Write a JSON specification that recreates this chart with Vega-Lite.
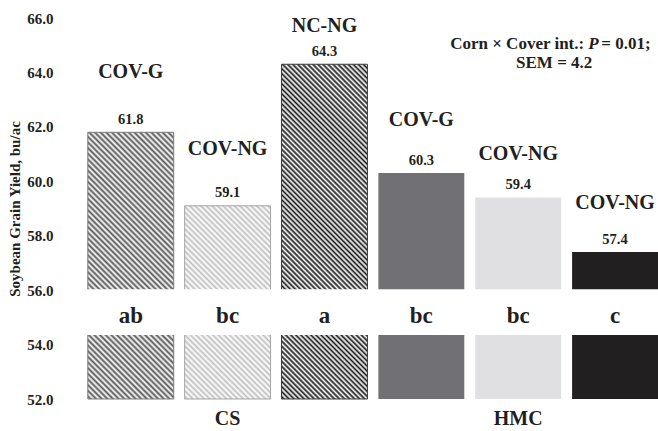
{
  "$schema": "https://vega.github.io/schema/vega-lite/v6.json",
  "width": 576,
  "height": 381,
  "autosize": {"type": "none"},
  "padding": {"left": 82, "top": 18, "right": 0, "bottom": 32},
  "background": "white",
  "config": {
    "view": {"stroke": null},
    "font": "Liberation Serif",
    "text": {"font": "Liberation Serif", "fontWeight": "bold", "color": "#231f20"},
    "axis": {"labelFont": "Liberation Serif", "labelFontWeight": "bold", "labelColor": "#231f20", "titleFont": "Liberation Serif", "titleFontWeight": "bold", "titleColor": "#231f20", "domain": false, "ticks": false, "tickSize": 0, "grid": false}
  },
  "data": {
    "values": [
      {"id": "CS-1", "system": "CS", "cover": "COV-G", "yield": 61.8, "sig": "ab", "labelAt": 64.0},
      {"id": "CS-2", "system": "CS", "cover": "COV-NG", "yield": 59.1, "sig": "bc", "labelAt": 61.2},
      {"id": "CS-3", "system": "CS", "cover": "NC-NG", "yield": 64.3, "sig": "a", "labelAt": 65.7},
      {"id": "HMC-1", "system": "HMC", "cover": "COV-G", "yield": 60.3, "sig": "bc", "labelAt": 62.25},
      {"id": "HMC-2", "system": "HMC", "cover": "COV-NG", "yield": 59.4, "sig": "bc", "labelAt": 61.0},
      {"id": "HMC-3", "system": "HMC", "cover": "COV-NG", "yield": 57.4, "sig": "c", "labelAt": 59.2}
    ]
  },
  "layer": [
    {
      "transform": [{"filter": "datum.system == 'HMC'"}],
      "mark": {"type": "bar"},
      "encoding": {
        "x": {"field": "id", "type": "nominal", "title": null,
          "scale": {"domain": ["CS-1", "CS-2", "CS-3", "HMC-1", "HMC-2", "HMC-3"], "paddingInner": 0.113, "paddingOuter": 0.03, "align": 1},
          "axis": {"labelExpr": "datum.value == 'CS-2' ? 'CS' : datum.value == 'HMC-2' ? 'HMC' : ''", "labelFontSize": 20, "labelPadding": 19, "labelBaseline": "middle", "labelAngle": 0, "labelOverlap": false}},
        "y": {"field": "yield", "type": "quantitative", "title": "Soybean Grain Yield, bu/ac",
          "scale": {"domain": [52, 66], "zero": false, "nice": false},
          "axis": {"values": [52, 54, 56, 58, 60, 62, 64, 66], "format": ".1f", "labelFontSize": 15, "labelPadding": 29, "titleFontSize": 15, "titlePadding": 4}},
        "y2": {"datum": 52},
        "color": {"field": "id", "type": "nominal", "legend": null,
          "scale": {"domain": ["HMC-1", "HMC-2", "HMC-3"], "range": ["#717175", "#e0e0e2", "#221f20"]}}
      }
    },
    {
      "transform": [{"filter": "datum.id == 'CS-1'"}],
      "mark": {"type": "bar", "stroke": "#7a7a7a", "strokeWidth": 1,
        "fill": {"gradient": "linear", "x1": 0, "y1": 1, "x2": 0.386, "y2": -0.198, "stops": [
          {"offset":0,"color":"#fff"},{"offset":0.008,"color":"#555"},{"offset":0.016,"color":"#fff"},{"offset":0.024,"color":"#555"},{"offset":0.032,"color":"#fff"},{"offset":0.04,"color":"#555"},{"offset":0.048,"color":"#fff"},{"offset":0.056,"color":"#555"},{"offset":0.064,"color":"#fff"},{"offset":0.072,"color":"#555"},{"offset":0.08,"color":"#fff"},{"offset":0.088,"color":"#555"},{"offset":0.096,"color":"#fff"},{"offset":0.104,"color":"#555"},{"offset":0.112,"color":"#fff"},{"offset":0.12,"color":"#555"},{"offset":0.128,"color":"#fff"},{"offset":0.136,"color":"#555"},{"offset":0.144,"color":"#fff"},{"offset":0.152,"color":"#555"},{"offset":0.16,"color":"#fff"},{"offset":0.168,"color":"#555"},{"offset":0.176,"color":"#fff"},{"offset":0.184,"color":"#555"},{"offset":0.192,"color":"#fff"},{"offset":0.2,"color":"#555"},{"offset":0.208,"color":"#fff"},{"offset":0.216,"color":"#555"},{"offset":0.224,"color":"#fff"},{"offset":0.232,"color":"#555"},{"offset":0.24,"color":"#fff"},{"offset":0.248,"color":"#555"},{"offset":0.256,"color":"#fff"},{"offset":0.264,"color":"#555"},{"offset":0.272,"color":"#fff"},{"offset":0.28,"color":"#555"},{"offset":0.288,"color":"#fff"},{"offset":0.296,"color":"#555"},{"offset":0.304,"color":"#fff"},{"offset":0.312,"color":"#555"},{"offset":0.32,"color":"#fff"},{"offset":0.328,"color":"#555"},{"offset":0.336,"color":"#fff"},{"offset":0.344,"color":"#555"},{"offset":0.352,"color":"#fff"},{"offset":0.36,"color":"#555"},{"offset":0.368,"color":"#fff"},{"offset":0.376,"color":"#555"},{"offset":0.384,"color":"#fff"},{"offset":0.392,"color":"#555"},{"offset":0.4,"color":"#fff"},{"offset":0.408,"color":"#555"},{"offset":0.416,"color":"#fff"},{"offset":0.424,"color":"#555"},{"offset":0.432,"color":"#fff"},{"offset":0.44,"color":"#555"},{"offset":0.448,"color":"#fff"},{"offset":0.456,"color":"#555"},{"offset":0.464,"color":"#fff"},{"offset":0.472,"color":"#555"},{"offset":0.48,"color":"#fff"},{"offset":0.488,"color":"#555"},{"offset":0.496,"color":"#fff"},{"offset":0.504,"color":"#555"},{"offset":0.512,"color":"#fff"},{"offset":0.52,"color":"#555"},{"offset":0.528,"color":"#fff"},{"offset":0.536,"color":"#555"},{"offset":0.544,"color":"#fff"},{"offset":0.552,"color":"#555"},{"offset":0.56,"color":"#fff"},{"offset":0.568,"color":"#555"},{"offset":0.576,"color":"#fff"},{"offset":0.584,"color":"#555"},{"offset":0.592,"color":"#fff"},{"offset":0.6,"color":"#555"},{"offset":0.608,"color":"#fff"},{"offset":0.616,"color":"#555"},{"offset":0.624,"color":"#fff"},{"offset":0.632,"color":"#555"},{"offset":0.64,"color":"#fff"},{"offset":0.648,"color":"#555"},{"offset":0.656,"color":"#fff"},{"offset":0.664,"color":"#555"},{"offset":0.672,"color":"#fff"},{"offset":0.68,"color":"#555"},{"offset":0.688,"color":"#fff"},{"offset":0.696,"color":"#555"},{"offset":0.704,"color":"#fff"},{"offset":0.712,"color":"#555"},{"offset":0.72,"color":"#fff"},{"offset":0.728,"color":"#555"},{"offset":0.736,"color":"#fff"},{"offset":0.744,"color":"#555"},{"offset":0.752,"color":"#fff"},{"offset":0.76,"color":"#555"},{"offset":0.768,"color":"#fff"},{"offset":0.776,"color":"#555"},{"offset":0.784,"color":"#fff"},{"offset":0.792,"color":"#555"},{"offset":0.8,"color":"#fff"},{"offset":0.808,"color":"#555"},{"offset":0.816,"color":"#fff"},{"offset":0.824,"color":"#555"},{"offset":0.832,"color":"#fff"},{"offset":0.84,"color":"#555"},{"offset":0.848,"color":"#fff"},{"offset":0.856,"color":"#555"},{"offset":0.864,"color":"#fff"},{"offset":0.872,"color":"#555"},{"offset":0.88,"color":"#fff"},{"offset":0.888,"color":"#555"},{"offset":0.896,"color":"#fff"},{"offset":0.904,"color":"#555"},{"offset":0.912,"color":"#fff"},{"offset":0.92,"color":"#555"},{"offset":0.928,"color":"#fff"},{"offset":0.936,"color":"#555"},{"offset":0.944,"color":"#fff"},{"offset":0.952,"color":"#555"},{"offset":0.96,"color":"#fff"},{"offset":0.968,"color":"#555"},{"offset":0.976,"color":"#fff"},{"offset":0.984,"color":"#555"},{"offset":0.992,"color":"#fff"},{"offset":1,"color":"#555"}
        ]}},
      "encoding": {
        "x": {"field": "id", "type": "nominal", "title": null},
        "y": {"field": "yield", "type": "quantitative", "title": "Soybean Grain Yield, bu/ac"},
        "y2": {"datum": 52}
      }
    },
    {
      "transform": [{"filter": "datum.id == 'CS-2'"}],
      "mark": {"type": "bar", "stroke": "#a5a5a5", "strokeWidth": 1,
        "fill": {"gradient": "linear", "x1": 0, "y1": 1, "x2": 0.536, "y2": -0.206, "stops": [
          {"offset":0,"color":"#fff"},{"offset":0.01,"color":"#c0c0c0"},{"offset":0.02,"color":"#fff"},{"offset":0.03,"color":"#c0c0c0"},{"offset":0.04,"color":"#fff"},{"offset":0.05,"color":"#c0c0c0"},{"offset":0.06,"color":"#fff"},{"offset":0.07,"color":"#c0c0c0"},{"offset":0.08,"color":"#fff"},{"offset":0.09,"color":"#c0c0c0"},{"offset":0.1,"color":"#fff"},{"offset":0.11,"color":"#c0c0c0"},{"offset":0.12,"color":"#fff"},{"offset":0.13,"color":"#c0c0c0"},{"offset":0.14,"color":"#fff"},{"offset":0.15,"color":"#c0c0c0"},{"offset":0.16,"color":"#fff"},{"offset":0.17,"color":"#c0c0c0"},{"offset":0.18,"color":"#fff"},{"offset":0.19,"color":"#c0c0c0"},{"offset":0.2,"color":"#fff"},{"offset":0.21,"color":"#c0c0c0"},{"offset":0.22,"color":"#fff"},{"offset":0.23,"color":"#c0c0c0"},{"offset":0.24,"color":"#fff"},{"offset":0.25,"color":"#c0c0c0"},{"offset":0.26,"color":"#fff"},{"offset":0.27,"color":"#c0c0c0"},{"offset":0.28,"color":"#fff"},{"offset":0.29,"color":"#c0c0c0"},{"offset":0.3,"color":"#fff"},{"offset":0.31,"color":"#c0c0c0"},{"offset":0.32,"color":"#fff"},{"offset":0.33,"color":"#c0c0c0"},{"offset":0.34,"color":"#fff"},{"offset":0.35,"color":"#c0c0c0"},{"offset":0.36,"color":"#fff"},{"offset":0.37,"color":"#c0c0c0"},{"offset":0.38,"color":"#fff"},{"offset":0.39,"color":"#c0c0c0"},{"offset":0.4,"color":"#fff"},{"offset":0.41,"color":"#c0c0c0"},{"offset":0.42,"color":"#fff"},{"offset":0.43,"color":"#c0c0c0"},{"offset":0.44,"color":"#fff"},{"offset":0.45,"color":"#c0c0c0"},{"offset":0.46,"color":"#fff"},{"offset":0.47,"color":"#c0c0c0"},{"offset":0.48,"color":"#fff"},{"offset":0.49,"color":"#c0c0c0"},{"offset":0.5,"color":"#fff"},{"offset":0.51,"color":"#c0c0c0"},{"offset":0.52,"color":"#fff"},{"offset":0.53,"color":"#c0c0c0"},{"offset":0.54,"color":"#fff"},{"offset":0.55,"color":"#c0c0c0"},{"offset":0.56,"color":"#fff"},{"offset":0.57,"color":"#c0c0c0"},{"offset":0.58,"color":"#fff"},{"offset":0.59,"color":"#c0c0c0"},{"offset":0.6,"color":"#fff"},{"offset":0.61,"color":"#c0c0c0"},{"offset":0.62,"color":"#fff"},{"offset":0.63,"color":"#c0c0c0"},{"offset":0.64,"color":"#fff"},{"offset":0.65,"color":"#c0c0c0"},{"offset":0.66,"color":"#fff"},{"offset":0.67,"color":"#c0c0c0"},{"offset":0.68,"color":"#fff"},{"offset":0.69,"color":"#c0c0c0"},{"offset":0.7,"color":"#fff"},{"offset":0.71,"color":"#c0c0c0"},{"offset":0.72,"color":"#fff"},{"offset":0.73,"color":"#c0c0c0"},{"offset":0.74,"color":"#fff"},{"offset":0.75,"color":"#c0c0c0"},{"offset":0.76,"color":"#fff"},{"offset":0.77,"color":"#c0c0c0"},{"offset":0.78,"color":"#fff"},{"offset":0.79,"color":"#c0c0c0"},{"offset":0.8,"color":"#fff"},{"offset":0.81,"color":"#c0c0c0"},{"offset":0.82,"color":"#fff"},{"offset":0.83,"color":"#c0c0c0"},{"offset":0.84,"color":"#fff"},{"offset":0.85,"color":"#c0c0c0"},{"offset":0.86,"color":"#fff"},{"offset":0.87,"color":"#c0c0c0"},{"offset":0.88,"color":"#fff"},{"offset":0.89,"color":"#c0c0c0"},{"offset":0.9,"color":"#fff"},{"offset":0.91,"color":"#c0c0c0"},{"offset":0.92,"color":"#fff"},{"offset":0.93,"color":"#c0c0c0"},{"offset":0.94,"color":"#fff"},{"offset":0.95,"color":"#c0c0c0"},{"offset":0.96,"color":"#fff"},{"offset":0.97,"color":"#c0c0c0"},{"offset":0.98,"color":"#fff"},{"offset":0.99,"color":"#c0c0c0"},{"offset":1,"color":"#fff"}
        ]}},
      "encoding": {
        "x": {"field": "id", "type": "nominal", "title": null},
        "y": {"field": "yield", "type": "quantitative", "title": "Soybean Grain Yield, bu/ac"},
        "y2": {"datum": 52}
      }
    },
    {
      "transform": [{"filter": "datum.id == 'CS-3'"}],
      "mark": {"type": "bar", "stroke": "#3a3a3a", "strokeWidth": 1,
        "fill": {"gradient": "linear", "x1": 0, "y1": 1, "x2": 0.303, "y2": -0.179, "stops": [
          {"offset":0,"color":"#fff"},{"offset":0.006,"color":"#1a1a1a"},{"offset":0.012,"color":"#fff"},{"offset":0.018,"color":"#1a1a1a"},{"offset":0.024,"color":"#fff"},{"offset":0.03,"color":"#1a1a1a"},{"offset":0.036,"color":"#fff"},{"offset":0.042,"color":"#1a1a1a"},{"offset":0.048,"color":"#fff"},{"offset":0.054,"color":"#1a1a1a"},{"offset":0.06,"color":"#fff"},{"offset":0.066,"color":"#1a1a1a"},{"offset":0.072,"color":"#fff"},{"offset":0.078,"color":"#1a1a1a"},{"offset":0.084,"color":"#fff"},{"offset":0.09,"color":"#1a1a1a"},{"offset":0.096,"color":"#fff"},{"offset":0.102,"color":"#1a1a1a"},{"offset":0.108,"color":"#fff"},{"offset":0.114,"color":"#1a1a1a"},{"offset":0.12,"color":"#fff"},{"offset":0.126,"color":"#1a1a1a"},{"offset":0.132,"color":"#fff"},{"offset":0.138,"color":"#1a1a1a"},{"offset":0.144,"color":"#fff"},{"offset":0.15,"color":"#1a1a1a"},{"offset":0.156,"color":"#fff"},{"offset":0.162,"color":"#1a1a1a"},{"offset":0.168,"color":"#fff"},{"offset":0.174,"color":"#1a1a1a"},{"offset":0.18,"color":"#fff"},{"offset":0.186,"color":"#1a1a1a"},{"offset":0.192,"color":"#fff"},{"offset":0.198,"color":"#1a1a1a"},{"offset":0.204,"color":"#fff"},{"offset":0.21,"color":"#1a1a1a"},{"offset":0.216,"color":"#fff"},{"offset":0.222,"color":"#1a1a1a"},{"offset":0.228,"color":"#fff"},{"offset":0.234,"color":"#1a1a1a"},{"offset":0.24,"color":"#fff"},{"offset":0.246,"color":"#1a1a1a"},{"offset":0.252,"color":"#fff"},{"offset":0.258,"color":"#1a1a1a"},{"offset":0.264,"color":"#fff"},{"offset":0.27,"color":"#1a1a1a"},{"offset":0.276,"color":"#fff"},{"offset":0.282,"color":"#1a1a1a"},{"offset":0.288,"color":"#fff"},{"offset":0.294,"color":"#1a1a1a"},{"offset":0.3,"color":"#fff"},{"offset":0.306,"color":"#1a1a1a"},{"offset":0.312,"color":"#fff"},{"offset":0.318,"color":"#1a1a1a"},{"offset":0.324,"color":"#fff"},{"offset":0.33,"color":"#1a1a1a"},{"offset":0.336,"color":"#fff"},{"offset":0.342,"color":"#1a1a1a"},{"offset":0.348,"color":"#fff"},{"offset":0.354,"color":"#1a1a1a"},{"offset":0.36,"color":"#fff"},{"offset":0.366,"color":"#1a1a1a"},{"offset":0.372,"color":"#fff"},{"offset":0.378,"color":"#1a1a1a"},{"offset":0.384,"color":"#fff"},{"offset":0.39,"color":"#1a1a1a"},{"offset":0.396,"color":"#fff"},{"offset":0.402,"color":"#1a1a1a"},{"offset":0.408,"color":"#fff"},{"offset":0.414,"color":"#1a1a1a"},{"offset":0.42,"color":"#fff"},{"offset":0.426,"color":"#1a1a1a"},{"offset":0.432,"color":"#fff"},{"offset":0.438,"color":"#1a1a1a"},{"offset":0.444,"color":"#fff"},{"offset":0.45,"color":"#1a1a1a"},{"offset":0.456,"color":"#fff"},{"offset":0.462,"color":"#1a1a1a"},{"offset":0.468,"color":"#fff"},{"offset":0.474,"color":"#1a1a1a"},{"offset":0.48,"color":"#fff"},{"offset":0.486,"color":"#1a1a1a"},{"offset":0.492,"color":"#fff"},{"offset":0.498,"color":"#1a1a1a"},{"offset":0.504,"color":"#fff"},{"offset":0.51,"color":"#1a1a1a"},{"offset":0.516,"color":"#fff"},{"offset":0.522,"color":"#1a1a1a"},{"offset":0.528,"color":"#fff"},{"offset":0.534,"color":"#1a1a1a"},{"offset":0.54,"color":"#fff"},{"offset":0.546,"color":"#1a1a1a"},{"offset":0.552,"color":"#fff"},{"offset":0.558,"color":"#1a1a1a"},{"offset":0.564,"color":"#fff"},{"offset":0.57,"color":"#1a1a1a"},{"offset":0.576,"color":"#fff"},{"offset":0.582,"color":"#1a1a1a"},{"offset":0.588,"color":"#fff"},{"offset":0.594,"color":"#1a1a1a"},{"offset":0.6,"color":"#fff"},{"offset":0.606,"color":"#1a1a1a"},{"offset":0.612,"color":"#fff"},{"offset":0.618,"color":"#1a1a1a"},{"offset":0.624,"color":"#fff"},{"offset":0.63,"color":"#1a1a1a"},{"offset":0.636,"color":"#fff"},{"offset":0.642,"color":"#1a1a1a"},{"offset":0.648,"color":"#fff"},{"offset":0.654,"color":"#1a1a1a"},{"offset":0.66,"color":"#fff"},{"offset":0.666,"color":"#1a1a1a"},{"offset":0.672,"color":"#fff"},{"offset":0.678,"color":"#1a1a1a"},{"offset":0.684,"color":"#fff"},{"offset":0.69,"color":"#1a1a1a"},{"offset":0.696,"color":"#fff"},{"offset":0.702,"color":"#1a1a1a"},{"offset":0.708,"color":"#fff"},{"offset":0.714,"color":"#1a1a1a"},{"offset":0.72,"color":"#fff"},{"offset":0.726,"color":"#1a1a1a"},{"offset":0.732,"color":"#fff"},{"offset":0.738,"color":"#1a1a1a"},{"offset":0.744,"color":"#fff"},{"offset":0.75,"color":"#1a1a1a"},{"offset":0.756,"color":"#fff"},{"offset":0.762,"color":"#1a1a1a"},{"offset":0.768,"color":"#fff"},{"offset":0.774,"color":"#1a1a1a"},{"offset":0.78,"color":"#fff"},{"offset":0.786,"color":"#1a1a1a"},{"offset":0.792,"color":"#fff"},{"offset":0.798,"color":"#1a1a1a"},{"offset":0.804,"color":"#fff"},{"offset":0.81,"color":"#1a1a1a"},{"offset":0.816,"color":"#fff"},{"offset":0.822,"color":"#1a1a1a"},{"offset":0.828,"color":"#fff"},{"offset":0.834,"color":"#1a1a1a"},{"offset":0.84,"color":"#fff"},{"offset":0.846,"color":"#1a1a1a"},{"offset":0.852,"color":"#fff"},{"offset":0.858,"color":"#1a1a1a"},{"offset":0.864,"color":"#fff"},{"offset":0.87,"color":"#1a1a1a"},{"offset":0.876,"color":"#fff"},{"offset":0.882,"color":"#1a1a1a"},{"offset":0.888,"color":"#fff"},{"offset":0.894,"color":"#1a1a1a"},{"offset":0.9,"color":"#fff"},{"offset":0.906,"color":"#1a1a1a"},{"offset":0.912,"color":"#fff"},{"offset":0.918,"color":"#1a1a1a"},{"offset":0.924,"color":"#fff"},{"offset":0.93,"color":"#1a1a1a"},{"offset":0.936,"color":"#fff"},{"offset":0.942,"color":"#1a1a1a"},{"offset":0.948,"color":"#fff"},{"offset":0.954,"color":"#1a1a1a"},{"offset":0.96,"color":"#fff"},{"offset":0.966,"color":"#1a1a1a"},{"offset":0.972,"color":"#fff"},{"offset":0.978,"color":"#1a1a1a"},{"offset":0.984,"color":"#fff"},{"offset":0.99,"color":"#1a1a1a"},{"offset":0.996,"color":"#fff"}
        ]}},
      "encoding": {
        "x": {"field": "id", "type": "nominal", "title": null},
        "y": {"field": "yield", "type": "quantitative", "title": "Soybean Grain Yield, bu/ac"},
        "y2": {"datum": 52}
      }
    },
    {
      "data": {"values": [{}]},
      "mark": {"type": "rect", "color": "white"},
      "encoding": {
        "y": {"datum": 54.35, "type": "quantitative"},
        "y2": {"datum": 56.03}
      }
    },
    {
      "mark": {"type": "text", "baseline": "middle", "dy": -12.5, "fontSize": 14.5},
      "encoding": {
        "x": {"field": "id", "type": "nominal", "title": null},
        "y": {"field": "yield", "type": "quantitative", "title": "Soybean Grain Yield, bu/ac"},
        "text": {"field": "yield", "type": "quantitative", "format": ".1f"}
      }
    },
    {
      "mark": {"type": "text", "baseline": "middle", "fontSize": 20},
      "encoding": {
        "x": {"field": "id", "type": "nominal", "title": null},
        "y": {"field": "labelAt", "type": "quantitative", "title": "Soybean Grain Yield, bu/ac"},
        "text": {"field": "cover", "type": "nominal"}
      }
    },
    {
      "mark": {"type": "text", "baseline": "alphabetic", "fontSize": 23},
      "encoding": {
        "x": {"field": "id", "type": "nominal", "title": null},
        "y": {"datum": 54.8, "type": "quantitative"},
        "text": {"field": "sig", "type": "nominal"}
      }
    },
    {
      "data": {"values": [{}]},
      "mark": {"type": "text", "baseline": "middle", "align": "right", "fontSize": 17, "dx": 66, "text": "Corn × Cover int.:"},
      "encoding": {
        "x": {"datum": "HMC-2", "type": "nominal"},
        "y": {"datum": 65.03, "type": "quantitative"}
      }
    },
    {
      "data": {"values": [{}]},
      "mark": {"type": "text", "baseline": "middle", "align": "left", "fontSize": 17, "fontStyle": "italic", "dx": 70, "text": "P"},
      "encoding": {
        "x": {"datum": "HMC-2", "type": "nominal"},
        "y": {"datum": 65.03, "type": "quantitative"}
      }
    },
    {
      "data": {"values": [{}]},
      "mark": {"type": "text", "baseline": "middle", "align": "left", "fontSize": 17, "dx": 83, "text": "= 0.01;"},
      "encoding": {
        "x": {"datum": "HMC-2", "type": "nominal"},
        "y": {"datum": 65.03, "type": "quantitative"}
      }
    },
    {
      "data": {"values": [{}]},
      "mark": {"type": "text", "baseline": "middle", "align": "center", "fontSize": 17, "dx": 36, "text": "SEM = 4.2"},
      "encoding": {
        "x": {"datum": "HMC-2", "type": "nominal"},
        "y": {"datum": 64.36, "type": "quantitative"}
      }
    }
  ]
}
